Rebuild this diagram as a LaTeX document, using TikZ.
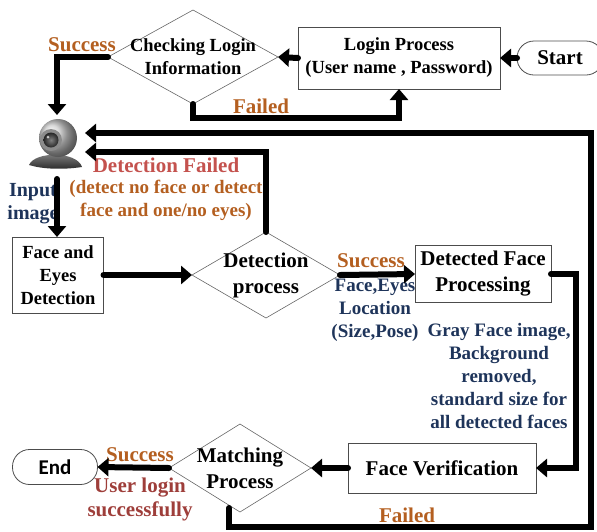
\documentclass[tikz,border=0pt]{standalone}
\usepackage{fontspec}
\setmainfont{Liberation Serif}
\newfontfamily\endfont{Carlito}
\usetikzlibrary{shapes.geometric,arrows.meta}

\definecolor{lblbrown}{RGB}{180,95,32}
\definecolor{lblred}{RGB}{196,82,78}
\definecolor{lbldred}{RGB}{158,62,58}
\definecolor{lblblue}{RGB}{30,52,90}

\tikzset{
  procbox/.style={draw=black!70, line width=0.8pt, align=center, inner sep=0pt, outer sep=0pt},
  decision/.style={diamond, draw=black!60, line width=0.6pt, inner sep=0pt, outer sep=0pt},
  terminal/.style={procbox, rounded corners=17pt},
  smallfont/.style={font=\bfseries\fontsize{18.5}{23}\selectfont},
  largefont/.style={font=\bfseries\fontsize{21}{26}\selectfont},
  lbl/.style={font=\bfseries\fontsize{19}{23}\selectfont, align=center, inner sep=0pt},
  keylbl/.style={lbl, font=\bfseries\fontsize{21}{24}\selectfont},
  conn/.style={line width=6pt, line cap=round, -{Triangle[length=11pt,width=18pt]}}
}

\begin{document}
\begin{tikzpicture}[x=1pt,y=-1pt]
  \useasboundingbox (0,0) rectangle (597,531);

  \node[terminal, largefont, minimum width=86, minimum height=34] (start) at (560,58) {Start};
  \node[procbox, smallfont, minimum width=202, minimum height=62] (login) at (399,58) {Login Process\\(User name , Password)};
  \node[decision, minimum width=170, minimum height=94] (chk) at (193,57) {};
  \node[smallfont, align=center] (chktxt) at (chk) {Checking Login\\Information};

  \node[minimum width=56, minimum height=64, inner sep=0pt, outer sep=0pt] (cam) at (57,147) {};
  \begin{scope}[shift={(cam.center)}]
    \shade[top color=black!45, bottom color=black!85] (-28,18) .. controls (-22,4) and (20,4) .. (25,20) .. controls (5,23) and (-15,22) .. cycle;
    \shade[ball color=black!20] (1,-9) circle (19);
    \fill[black!45] (-6,-7) circle (11);
    \shade[inner color=black!50, outer color=black!85] (-6,-7) circle (7.5);
    \fill[white, opacity=0.7] (-9,-10) circle (1.5);
  \end{scope}

  \node[procbox, smallfont, minimum width=91, minimum height=76] (fed) at (58,275) {Face and\\Eyes\\Detection};
  \node[decision, minimum width=148, minimum height=86] (det) at (266,275) {};
  \node[largefont, align=center] (dettxt) at (det) {Detection\\process};
  \node[procbox, largefont, minimum width=136, minimum height=57] (dfp) at (483,274) {Detected Face\\Processing};
  \node[procbox, largefont, minimum width=188, minimum height=50] (fv) at (442,468) {Face Verification};
  \node[decision, minimum width=142, minimum height=88] (mat) at (240,468) {};
  \node[largefont, align=center] (mattxt) at (mat) {Matching\\Process};
  \node[terminal, font=\endfont\bfseries\fontsize{21}{26}\selectfont, minimum width=85, minimum height=35] (end) at (55,467) {End};

  \coordinate (loopbr) at (591,527);

  \foreach \nm/\px/\py/\txt in {okchk/82/45/Success, nochk/261/106/Failed, okdet/371/261/Success, okmat/140/455/Success, nomat/407/515/Failed}
    \node[keylbl, text=lblbrown] (\nm) at (\px,\py) {\txt};
  \node[keylbl, text=lblred] (detfail) at (166,165) {Detection Failed};
  \node[lbl, text=lblbrown] (detwhy) at (166,200.5) {(detect no face or detect\\face and one/no eyes)};
  \node[lbl, font=\bfseries\fontsize{20}{23}\selectfont, text=lblblue] (input) at (33,203.5) {Input\\image};
  \node[lbl, text=lblblue] (loc) at (375,310.5) {Face,Eyes\\Location\\(Size,Pose)};
  \node[lbl, text=lblblue] (gray) at (499,376) {Gray Face image,\\Background\\removed,\\standard size for\\all detected faces};
  \node[keylbl, text=lbldred] (userok) at (140,499) {User login\\successfully};

  \draw[conn] (start.west) -- (login.east);
  \draw[conn] (login.west) -- (chk.east);
  \draw[conn] (chk.west) -| (cam.north);
  \draw[conn] (chk.south) -- ++(0,14) -| (login.south);
  \draw[conn] (cam.south) -- (cam.south |- fed.north);
  \draw[conn] (fed.east) -- (det.west);
  \draw[conn] (det.north) |- ([yshift=-5pt]cam.east);
  \draw[conn] (det.east) -- (dfp.west);
  \draw[conn] (dfp.east) -- ++(25,0) |- (fv.east);
  \draw[conn] (fv.west) -- (mat.east);
  \draw[conn] (mat.west) -- (end.east);
  \draw[conn] ([xshift=-11pt,yshift=4pt]mat.south) |- (loopbr) |- ([yshift=14pt]cam.east);
\end{tikzpicture}
\end{document}
